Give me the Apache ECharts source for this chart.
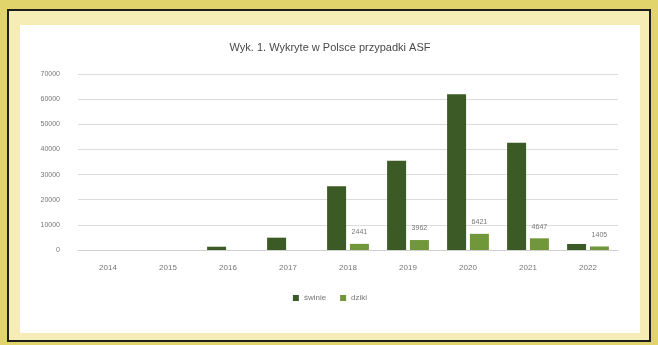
<!DOCTYPE html>
<html><head><meta charset="utf-8">
<script src="https://cdn.jsdelivr.net/npm/echarts@6/dist/echarts.min.js"></script>
<style>
html,body{margin:0;padding:0;width:658px;height:345px;background:#e1d46a;overflow:hidden;}
#frame{position:absolute;left:7px;top:9px;width:640px;height:329px;border:2px solid #1e1e1e;background:#f6ecb6;}
#chart{position:absolute;left:20px;top:25px;width:620px;height:308px;background:#ffffff;}
</style></head>
<body>
<div id="frame"></div>
<div id="chart"></div>
<script>
const years = ['2014','2015','2016','2017','2018','2019','2020','2021','2022'];
const seriesNames = ['świnie','dziki'];
const darkValues = [null, null, 1300, 4900, 25400, 35500, 61900, 42700, 2400];
const lightValues = [null, null, null, null, 2441, 3962, 6421, 4647, 1405];
const lightLabels = [null, null, null, null, '2441', '3962', '6421', '4647', '1405'];

const chart = echarts.init(document.getElementById('chart'));
chart.setOption({
  animation:false,
  textStyle:{fontFamily:'Liberation Sans, Arial, sans-serif'},
  title:{text:'Wyk. 1. Wykryte w Polsce przypadki ASF',left:'center',top:12,
    textStyle:{fontSize:11,fontWeight:'normal',color:'#4a4a4a'}},
  legend:{bottom:26,left:'center',itemWidth:6,itemHeight:6,itemGap:14,icon:'rect',
    textStyle:{fontSize:8,color:'#777'},data:seriesNames},
  grid:{left:58,right:22,top:49,bottom:83},
  xAxis:{type:'category',data:years,
    axisLine:{lineStyle:{color:'#d0d0d0'}},axisTick:{show:false},
    axisLabel:{fontSize:8,color:'#777',margin:14}},
  yAxis:{type:'value',min:0,max:70000,interval:10000,
    axisLine:{show:false},axisTick:{show:false},
    splitLine:{lineStyle:{color:'#dcdcdc'}},
    axisLabel:{fontSize:7,color:'#777',margin:18,formatter:v=>String(v)}},
  series:[
    {name:seriesNames[0],type:'bar',data:darkValues,barWidth:19,barGap:'20%',
      itemStyle:{color:'#3c5a25'}},
    {name:seriesNames[1],type:'bar',data:lightValues,barWidth:19,
      itemStyle:{color:'#70983b'},
      label:{show:true,position:'top',distance:8,fontSize:7,color:'#777',
        formatter:p=>lightLabels[p.dataIndex]||''}}
  ]
});
</script>
</body></html>
